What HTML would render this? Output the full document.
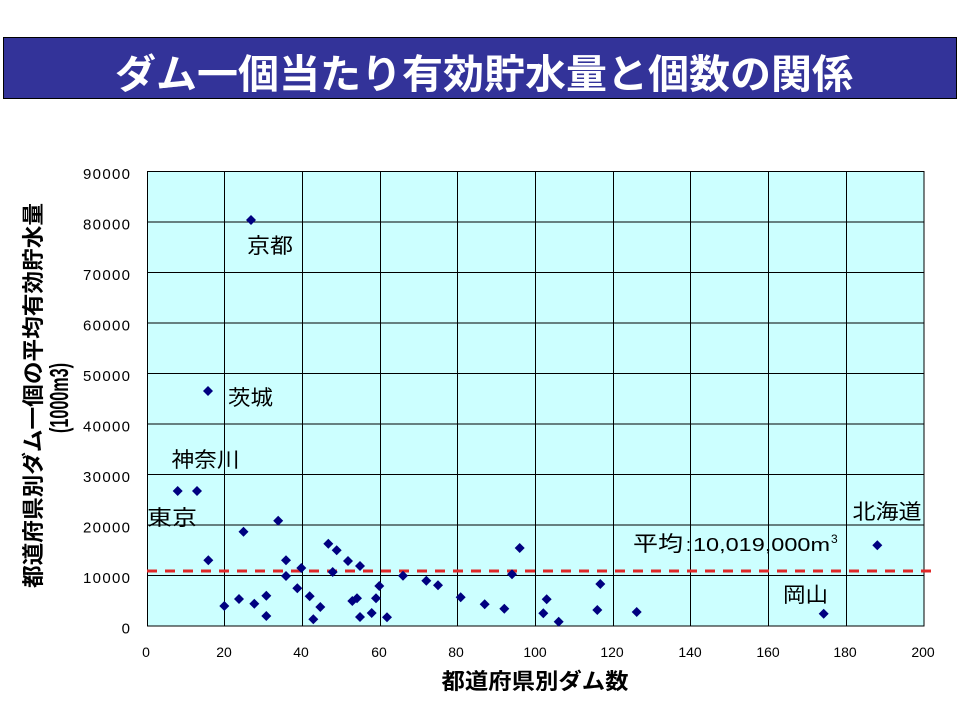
<!DOCTYPE html>
<html><head><meta charset="utf-8"><style>
html,body{margin:0;padding:0;background:#fff;}
svg{display:block;}
text{font-family:"Liberation Sans","Noto Sans CJK JP",sans-serif;}
</style></head><body>
<svg width="960" height="720" viewBox="0 0 960 720" xmlns="http://www.w3.org/2000/svg">
<rect x="0" y="0" width="960" height="720" fill="#fff"/>
<rect x="3.5" y="37.5" width="953" height="61" fill="#333399" stroke="#000" stroke-width="1"/>
<text x="115" y="88" font-size="40" font-weight="bold" fill="#fff" textLength="738" lengthAdjust="spacingAndGlyphs">ダム一個当たり有効貯水量と個数の関係</text>
<rect x="147" y="171.5" width="777" height="454.5" fill="#CCFFFF"/>
<g stroke="#000" stroke-width="1" fill="none">
<line x1="147" y1="575.5" x2="924" y2="575.5"/>
<line x1="147" y1="525" x2="924" y2="525"/>
<line x1="147" y1="474.5" x2="924" y2="474.5"/>
<line x1="147" y1="424" x2="924" y2="424"/>
<line x1="147" y1="373.5" x2="924" y2="373.5"/>
<line x1="147" y1="323" x2="924" y2="323"/>
<line x1="147" y1="272.5" x2="924" y2="272.5"/>
<line x1="147" y1="222" x2="924" y2="222"/>
<line x1="224.5" y1="171.5" x2="224.5" y2="626"/>
<line x1="302.5" y1="171.5" x2="302.5" y2="626"/>
<line x1="380.5" y1="171.5" x2="380.5" y2="626"/>
<line x1="457.5" y1="171.5" x2="457.5" y2="626"/>
<line x1="535.5" y1="171.5" x2="535.5" y2="626"/>
<line x1="613.5" y1="171.5" x2="613.5" y2="626"/>
<line x1="690.5" y1="171.5" x2="690.5" y2="626"/>
<line x1="768.5" y1="171.5" x2="768.5" y2="626"/>
<line x1="846.5" y1="171.5" x2="846.5" y2="626"/>
<rect x="147.5" y="171.5" width="776.5" height="454.5"/>
</g>
<line x1="147" y1="571" x2="934" y2="571" stroke="#E02828" stroke-width="3" stroke-dasharray="10 8"/>
<g fill="#000080">
<path d="M251 215l5 5-5 5-5-5z"/>
<path d="M208 386l5 5-5 5-5-5z"/>
<path d="M177.7 486l5 5-5 5-5-5z"/>
<path d="M197 486l5 5-5 5-5-5z"/>
<path d="M208.3 555.3l5 5-5 5-5-5z"/>
<path d="M243.5 526.7l5 5-5 5-5-5z"/>
<path d="M278.2 515.8l5 5-5 5-5-5z"/>
<path d="M224.3 601l5 5-5 5-5-5z"/>
<path d="M239 594l5 5-5 5-5-5z"/>
<path d="M254.3 598.7l5 5-5 5-5-5z"/>
<path d="M266.3 590.7l5 5-5 5-5-5z"/>
<path d="M266.3 611l5 5-5 5-5-5z"/>
<path d="M286 555.3l5 5-5 5-5-5z"/>
<path d="M286 571l5 5-5 5-5-5z"/>
<path d="M301.3 563l5 5-5 5-5-5z"/>
<path d="M297.3 583.3l5 5-5 5-5-5z"/>
<path d="M309.7 591.3l5 5-5 5-5-5z"/>
<path d="M320.3 602l5 5-5 5-5-5z"/>
<path d="M313.3 614.3l5 5-5 5-5-5z"/>
<path d="M328.3 538.7l5 5-5 5-5-5z"/>
<path d="M336.7 545.3l5 5-5 5-5-5z"/>
<path d="M348 556l5 5-5 5-5-5z"/>
<path d="M360 561l5 5-5 5-5-5z"/>
<path d="M332.7 567l5 5-5 5-5-5z"/>
<path d="M352.3 596l5 5-5 5-5-5z"/>
<path d="M357 593.3l5 5-5 5-5-5z"/>
<path d="M360 612l5 5-5 5-5-5z"/>
<path d="M371.7 608l5 5-5 5-5-5z"/>
<path d="M376 593.3l5 5-5 5-5-5z"/>
<path d="M379.3 581l5 5-5 5-5-5z"/>
<path d="M387 612.3l5 5-5 5-5-5z"/>
<path d="M403 570.7l5 5-5 5-5-5z"/>
<path d="M426.3 575.7l5 5-5 5-5-5z"/>
<path d="M438 580.3l5 5-5 5-5-5z"/>
<path d="M460.7 592.3l5 5-5 5-5-5z"/>
<path d="M484.7 599.3l5 5-5 5-5-5z"/>
<path d="M504.3 603.7l5 5-5 5-5-5z"/>
<path d="M519.7 543l5 5-5 5-5-5z"/>
<path d="M512 569.3l5 5-5 5-5-5z"/>
<path d="M546.7 594.3l5 5-5 5-5-5z"/>
<path d="M543.3 608.3l5 5-5 5-5-5z"/>
<path d="M558.7 616.7l5 5-5 5-5-5z"/>
<path d="M600.3 579l5 5-5 5-5-5z"/>
<path d="M597.3 605l5 5-5 5-5-5z"/>
<path d="M636.7 607l5 5-5 5-5-5z"/>
<path d="M823.7 608.7l5 5-5 5-5-5z"/>
<path d="M877.3 540.3l5 5-5 5-5-5z"/>
</g>
<g font-size="21" fill="#000">
<text x="247" y="253" textLength="46" lengthAdjust="spacingAndGlyphs">京都</text>
<text x="228" y="405" textLength="45" lengthAdjust="spacingAndGlyphs">茨城</text>
<text x="171.5" y="467" textLength="68" lengthAdjust="spacingAndGlyphs">神奈川</text>
<text x="147" y="525" textLength="50" lengthAdjust="spacingAndGlyphs">東京</text>
<text x="852.5" y="519" textLength="69" lengthAdjust="spacingAndGlyphs">北海道</text>
<text x="783" y="602" textLength="45" lengthAdjust="spacingAndGlyphs">岡山</text>
</g>
<text x="633" y="551" font-size="21" textLength="50" lengthAdjust="spacingAndGlyphs">平均</text>
<text x="686" y="551" font-size="18">:</text>
<text x="693" y="551" font-size="18" textLength="137" lengthAdjust="spacingAndGlyphs">10,019,000m</text>
<text x="831" y="543" font-size="12">3</text>
<g font-size="15" fill="#000">
<text x="83" y="179" textLength="47" lengthAdjust="spacing">90000</text>
<text x="83" y="229.5" textLength="47" lengthAdjust="spacing">80000</text>
<text x="83" y="280" textLength="47" lengthAdjust="spacing">70000</text>
<text x="83" y="330.5" textLength="47" lengthAdjust="spacing">60000</text>
<text x="83" y="381" textLength="47" lengthAdjust="spacing">50000</text>
<text x="83" y="431.5" textLength="47" lengthAdjust="spacing">40000</text>
<text x="83" y="482" textLength="47" lengthAdjust="spacing">30000</text>
<text x="83" y="532.5" textLength="47" lengthAdjust="spacing">20000</text>
<text x="83" y="583" textLength="47" lengthAdjust="spacing">10000</text>
<text x="130" y="633.5" text-anchor="end">0</text>
</g>
<g font-size="14" fill="#000" text-anchor="middle">
<text x="146" y="657">0</text>
<text x="224" y="657">20</text>
<text x="301" y="657">40</text>
<text x="379" y="657">60</text>
<text x="456" y="657">80</text>
<text x="535" y="657">100</text>
<text x="612" y="657">120</text>
<text x="690" y="657">140</text>
<text x="768" y="657">160</text>
<text x="845" y="657">180</text>
<text x="923" y="657">200</text>
</g>
<text x="441.5" y="689" font-size="22" font-weight="bold" textLength="187" lengthAdjust="spacingAndGlyphs">都道府県別ダム数</text>
<text transform="translate(41,395.5) rotate(-90)" text-anchor="middle" font-size="22" font-weight="bold" textLength="385" lengthAdjust="spacingAndGlyphs">都道府県別ダム一個の平均有効貯水量</text>
<text transform="translate(68,398) rotate(-90)" text-anchor="middle" font-size="26" font-weight="bold" textLength="70" lengthAdjust="spacingAndGlyphs">(1000m3)</text>
</svg>
</body></html>
